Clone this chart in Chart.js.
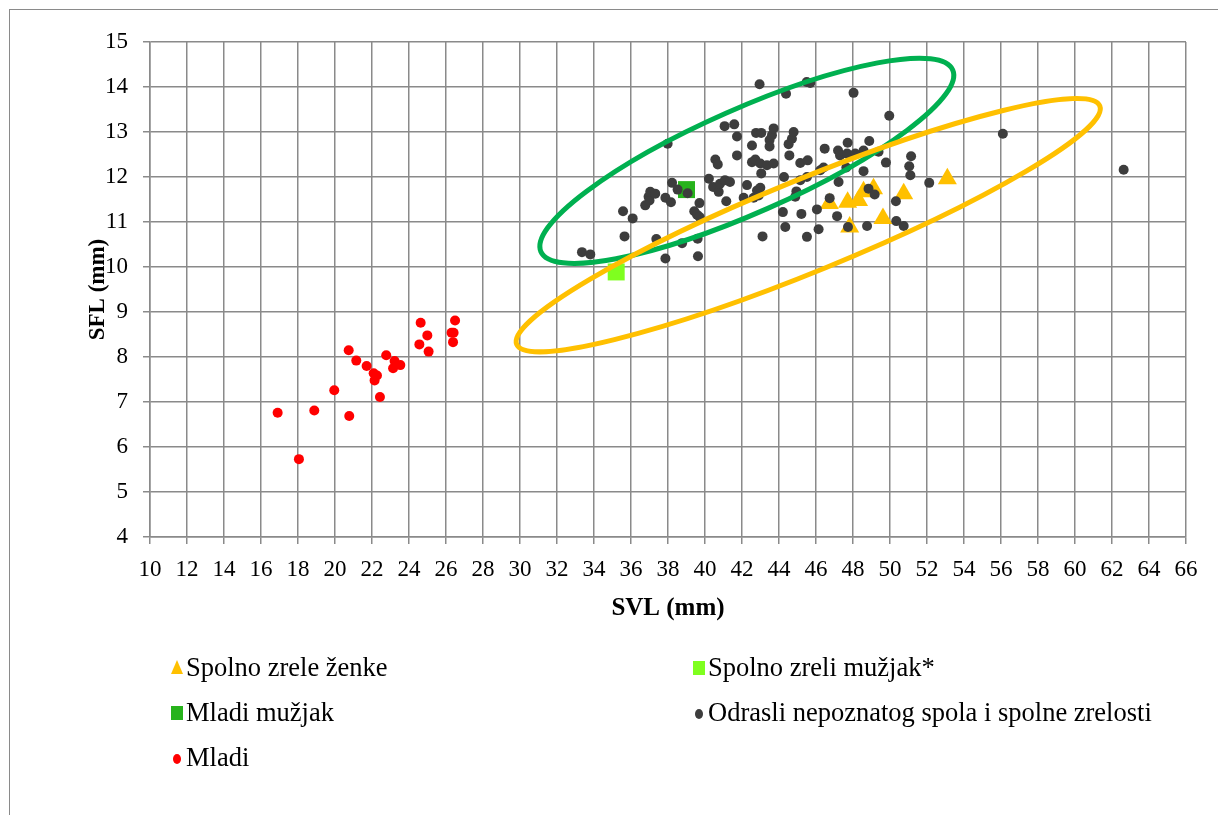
<!DOCTYPE html>
<html>
<head>
<meta charset="utf-8">
<script src="https://cdn.jsdelivr.net/npm/chart.js@4.4.1/dist/chart.umd.min.js"></script>
<style>
  html, body { margin: 0; padding: 0; background: #fff; }
  #wrap { position: relative; width: 1218px; height: 815px; overflow: hidden; }
  #frame { position: absolute; left: 9px; top: 9px; width: 1300px; height: 900px; border: 1px solid #8a8a8a; box-sizing: border-box; }
  #chartBox { position: absolute; left: 0; top: 0; width: 1218px; height: 815px; }
  #legend { position: absolute; left: 0; top: 0; width: 1218px; height: 815px; pointer-events: none;
            font-family: "Liberation Serif", "Times New Roman", serif; font-size: 26.5px; color: #000; }
  .item { position: absolute; display: flex; align-items: center; white-space: nowrap; height: 30px; }
  .item svg { margin-right: 2px; }
</style>
</head>
<body>
<div id="wrap">
  <div id="frame"></div>
  <div id="chartBox"><canvas id="c"></canvas></div>
  <div id="legend"></div>
</div>
<script>
// SVL (mm) and SFL (mm) per group
const zenkeSVL = [46.72, 47.71, 48.30, 48.57, 49.11, 47.82, 49.62, 50.74, 53.10];
const zenkeSFL = [11.41, 11.44, 11.48, 11.67, 11.74, 10.89, 11.08, 11.63, 11.96];

const zreliMuzjakSVL = [35.2];
const zreliMuzjakSFL = [9.89];

const mladiMuzjakSVL = [39.0];
const mladiMuzjakSFL = [11.72];

const odrasliSVL = [
  33.35, 33.80, 35.57, 35.65, 36.09, 36.77, 36.95, 37.00, 37.04, 37.31,
  37.37, 37.86, 37.86, 37.98, 38.16, 38.22, 38.52, 38.76, 39.06, 39.42,
  39.57, 39.71, 39.70, 39.60, 39.62, 40.21, 40.44, 40.56, 40.69, 40.74,
  40.81, 41.06, 41.08, 41.15, 41.35, 41.58, 41.73, 41.73, 42.09, 42.27,
  42.54, 42.54, 42.63, 42.72, 42.76, 42.81, 42.90, 42.95, 42.99, 42.99,
  43.04, 43.04, 43.11, 43.35, 43.49, 43.49, 43.62, 43.71, 43.71, 44.21,
  44.27, 44.34, 44.38, 44.52, 44.56, 44.70, 44.79, 44.88, 44.94, 45.15,
  45.15, 45.21, 45.50, 45.51, 45.51, 45.55, 45.69, 46.05, 46.14, 46.23,
  46.41, 46.47, 46.74, 47.14, 47.19, 47.22, 47.30, 47.64, 47.68, 47.71,
  47.73, 48.03, 48.12, 48.57, 48.57, 48.76, 48.84, 48.88, 49.17, 49.38,
  49.78, 49.96, 50.32, 50.34, 50.74, 51.04, 51.10, 51.14, 52.12, 56.10,
  62.63
];
const odrasliSFL = [
  10.33, 10.28, 11.24, 10.68, 11.08, 11.37, 11.56, 11.48, 11.67, 11.63,
  10.62, 11.54, 10.19, 12.74, 11.44, 11.87, 11.72, 10.53, 11.64, 11.24,
  11.16, 11.11, 11.42, 10.63, 10.24, 11.96, 11.78, 12.39, 12.28, 11.67,
  11.85, 13.13, 11.93, 11.46, 11.89, 13.17, 12.90, 12.48, 11.54, 11.82,
  12.70, 12.33, 11.54, 12.39, 12.98, 11.70, 11.59, 14.06, 12.30, 11.76,
  12.98, 12.08, 10.68, 12.26, 12.82, 12.68, 12.93, 13.08, 12.30, 11.22,
  12.00, 10.89, 13.85, 12.73, 12.48, 12.85, 13.00, 11.56, 11.68, 12.31,
  11.93, 11.18, 14.11, 12.00, 10.67, 12.37, 14.09, 11.28, 10.84, 12.15,
  12.21, 12.63, 11.53, 11.13, 12.59, 11.89, 12.48, 12.21, 12.52, 12.76,
  10.89, 13.87, 12.52, 12.59, 12.13, 10.91, 11.74, 12.80, 11.61, 12.56,
  12.32, 13.36, 11.46, 11.02, 10.91, 12.24, 12.04, 12.46, 11.87, 12.96,
  12.16
];

const mladiSVL = [16.90, 18.05, 18.88, 19.96, 20.77, 20.74, 21.15, 21.71, 22.09, 22.27,
                  22.14, 22.43, 22.77, 23.22, 23.53, 23.14, 24.63, 24.99, 24.56, 25.06,
                  26.49, 26.41, 26.30, 26.38];
const mladiSFL = [6.76, 5.73, 6.81, 7.26, 6.69, 8.15, 7.92, 7.80, 7.64, 7.59,
                  7.48, 7.11, 8.04, 7.91, 7.82, 7.75, 8.76, 8.48, 8.28, 8.12,
                  8.81, 8.54, 8.54, 8.33];

const seriesLabels = [
  'Spolno zrele ženke',
  'Spolno zreli mužjak*',
  'Mladi mužjak',
  'Odrasli nepoznatog spola i spolne zrelosti',
  'Mladi'
];

// Group outlines: centre and end of the long axis (SVL, SFL), plus width ratio
const greenOutlineCentre = [42.26, 12.36];
const greenOutlineTip = [53.39, 14.38];
const greenOutlineRatio = 0.231;
const yellowOutlineCentre = [45.58, 10.93];
const yellowOutlineTip = [61.34, 13.58];
const yellowOutlineRatio = 0.146;

const xRange = [10, 66, 2];
const yRange = [4, 15, 1];

const pts = (xs, ys) => xs.map((x, i) => ({ x, y: ys[i] }));

const serif = '"Liberation Serif", "Times New Roman", serif';
const gridColor = '#8a8a8a';

const outlinePlugin = {
  id: 'outlines',
  afterDatasetsDraw(chart) {
    const { ctx, scales: { x, y } } = chart;
    const shapes = [
      { c: greenOutlineCentre, t: greenOutlineTip, r: greenOutlineRatio, color: '#00B050' },
      { c: yellowOutlineCentre, t: yellowOutlineTip, r: yellowOutlineRatio, color: '#FFC000' }
    ];
    ctx.save();
    shapes.forEach(s => {
      const cx = x.getPixelForValue(s.c[0]), cy = y.getPixelForValue(s.c[1]);
      const tx = x.getPixelForValue(s.t[0]), ty = y.getPixelForValue(s.t[1]);
      const a = Math.hypot(tx - cx, ty - cy);
      const ang = Math.atan2(ty - cy, tx - cx);
      ctx.beginPath();
      ctx.ellipse(cx, cy, a, a * s.r, ang, 0, Math.PI * 2);
      ctx.lineWidth = 5;
      ctx.strokeStyle = s.color;
      ctx.stroke();
    });
    ctx.restore();
  }
};

const chart = new Chart(document.getElementById('c'), {
  type: 'scatter',
  data: {
    datasets: [
      { label: seriesLabels[0], data: pts(zenkeSVL, zenkeSFL), pointStyle: 'triangle',
        pointRadius: 11, backgroundColor: '#FFC000', borderColor: '#FFC000', borderWidth: 0, order: 5 },
      { label: seriesLabels[1], data: pts(zreliMuzjakSVL, zreliMuzjakSFL), pointStyle: 'rect',
        pointRadius: 12, backgroundColor: '#7FFF1F', borderColor: '#7FFF1F', borderWidth: 0, order: 4 },
      { label: seriesLabels[2], data: pts(mladiMuzjakSVL, mladiMuzjakSFL), pointStyle: 'rect',
        pointRadius: 12, backgroundColor: '#27B31C', borderColor: '#27B31C', borderWidth: 0, order: 3 },
      { label: seriesLabels[3], data: pts(odrasliSVL, odrasliSFL), pointStyle: 'circle',
        pointRadius: 5, backgroundColor: '#3D3D3D', borderColor: '#3D3D3D', borderWidth: 0, order: 2 },
      { label: seriesLabels[4], data: pts(mladiSVL, mladiSFL), pointStyle: 'circle',
        pointRadius: 5, backgroundColor: '#FF0000', borderColor: '#FF0000', borderWidth: 0, order: 1 }
    ]
  },
  options: {
    responsive: true,
    maintainAspectRatio: false,
    animation: false,
    events: [],
    layout: { padding: { left: 0, top: 42, right: 32, bottom: 178 } },
    plugins: { legend: { display: false }, tooltip: { enabled: false } },
    scales: {
      x: {
        type: 'linear', min: xRange[0], max: xRange[1],
        afterFit(scale) { scale.height = 100; },
        ticks: { stepSize: xRange[2], color: '#000', padding: 12, font: { family: serif, size: 23 } },
        grid: { color: gridColor, lineWidth: 1.5, tickLength: 7, tickColor: gridColor },
        border: { color: gridColor, width: 1.5 },
        title: { display: true, text: 'SVL (mm)', color: '#000',
                 font: { family: serif, size: 25, weight: 'bold' }, padding: { top: 0, bottom: 13 } }
      },
      y: {
        type: 'linear', min: yRange[0], max: yRange[1],
        afterFit(scale) { scale.width = 150; },
        ticks: { stepSize: yRange[2], color: '#000', padding: 15, font: { family: serif, size: 23 } },
        grid: { color: gridColor, lineWidth: 1.5, tickLength: 7, tickColor: gridColor },
        border: { color: gridColor, width: 1.5 },
        title: { display: true, text: 'SFL (mm)', color: '#000',
                 font: { family: serif, size: 23, weight: 'bold' }, padding: { top: 84, bottom: 0 } }
      }
    }
  },
  plugins: [outlinePlugin]
});

// Legend in two columns below the plot
(function buildLegend() {
  const box = document.getElementById('legend');
  const slots = [
    { left: 170, top: 652 }, { left: 692, top: 652 },
    { left: 170, top: 697 }, { left: 692, top: 697 },
    { left: 170, top: 742 }
  ];
  chart.data.datasets.forEach((ds, i) => {
    const c = ds.backgroundColor;
    let icon;
    if (ds.pointStyle === 'triangle') {
      icon = `<svg width="14" height="16"><polygon points="7,1 13,15 1,15" fill="${c}"/></svg>`;
    } else if (ds.pointStyle === 'rect') {
      icon = `<svg width="14" height="16"><rect x="1" y="2" width="12" height="14" fill="${c}"/></svg>`;
    } else {
      icon = `<svg width="14" height="16"><ellipse cx="7" cy="10" rx="4" ry="5" fill="${c}"/></svg>`;
    }
    const el = document.createElement('div');
    el.className = 'item';
    el.style.left = slots[i].left + 'px';
    el.style.top = slots[i].top + 'px';
    el.innerHTML = icon + '<span>' + ds.label + '</span>';
    box.appendChild(el);
  });
})();
</script>
</body>
</html>
